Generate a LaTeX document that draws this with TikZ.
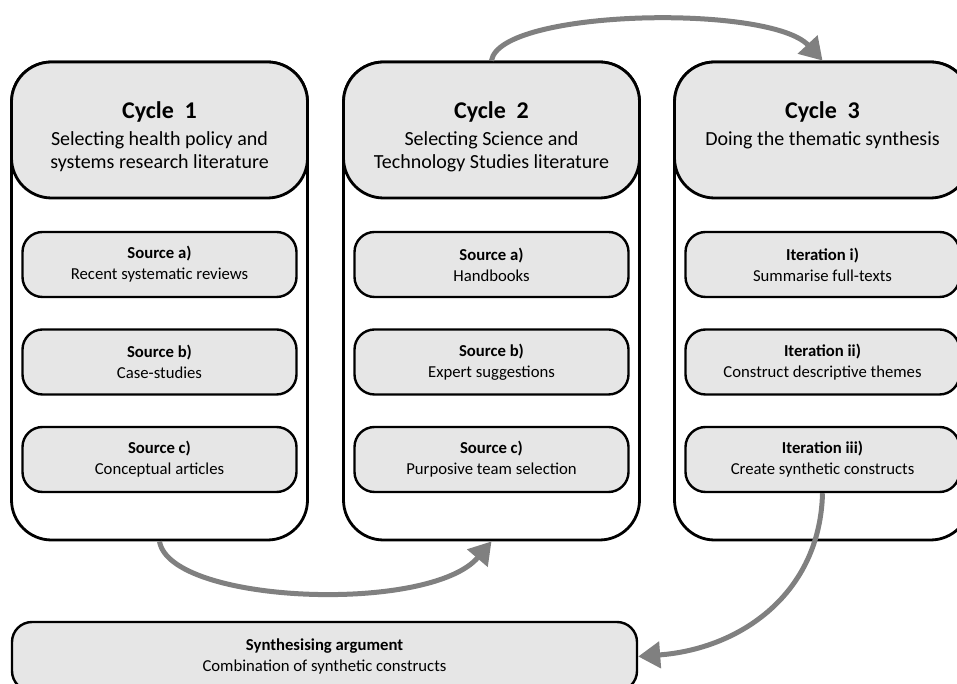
\documentclass[tikz,border=0pt]{standalone}
\usepackage{fontspec}
\setmainfont{Carlito}
\usetikzlibrary{arrows.meta}
\definecolor{boxgray}{RGB}{230,230,230}
\definecolor{flowgray}{RGB}{128,128,128}
\tikzset{
  cyclebox/.style={draw, line width=2.8pt, fill=white, rounded corners=40pt,
    minimum width=296pt, minimum height=478pt},
  cyclehead/.style={draw, line width=2.8pt, fill=boxgray, rounded corners=40pt,
    minimum width=296pt, minimum height=136pt},
  headtext/.style={anchor=north, inner sep=0pt, align=center,
    font=\fontsize{20}{23.5}\selectfont},
  itembox/.style={draw, line width=2.4pt, fill=boxgray, rounded corners=20pt,
    minimum width=274pt, minimum height=65pt, align=center, inner sep=0pt,
    font=\fontsize{16.7}{21}\selectfont},
  flow/.style={draw=flowgray, line width=5pt, -{Triangle[length=22pt,width=26pt]}}
}
\newcommand{\cycletitle}[1]{{\fontsize{24}{27}\selectfont\bfseries Cycle\ \ #1}\\[3.5pt]}
\begin{document}
\begin{tikzpicture}[x=1pt,y=1pt]
\useasboundingbox (0,0) rectangle (957,684);
\node[cyclebox] (c1) at (159.5,383) {};
\node[cyclebox] (c2) at (491.5,383) {};
\node[cyclebox] (c3) at (822.5,383) {};
\node[cyclehead] (h1) at (159.5,554) {};
\node[cyclehead] (h2) at (491.5,554) {};
\node[cyclehead] (h3) at (822.5,554) {};
\node[headtext] (t1) at (h1.center |- 0,583) {\cycletitle{1}Selecting health policy and\\systems research literature};
\node[headtext] (t2) at (h2.center |- 0,583) {\cycletitle{2}Selecting Science and\\Technology Studies literature};
\node[headtext] (t3) at (h3.center |- 0,583) {\cycletitle{3}Doing the thematic synthesis};

\node[itembox] (s1a) at (159.5,419.5) {\textbf{Source a)}\\Recent systematic reviews};
\node[itembox] (s1b) at (159.5,322) {\textbf{Source b)}\\Case-studies};
\node[itembox] (s1c) at (159.5,224.5) {\textbf{Source c)}\\Conceptual articles};
\node[itembox] (s2a) at (491.5,419.5) {\textbf{Source a)}\\Handbooks};
\node[itembox] (s2b) at (491.5,322) {\textbf{Source b)}\\Expert suggestions};
\node[itembox] (s2c) at (491.5,224.5) {\textbf{Source c)}\\Purposive team selection};
\node[itembox] (s3a) at (822.5,419.5) {\textbf{Iteration i)}\\Summarise full-texts};
\node[itembox] (s3b) at (822.5,322) {\textbf{Iteration ii)}\\Construct descriptive themes};
\node[itembox] (s3c) at (822.5,224.5) {\textbf{Iteration iii)}\\Create synthetic constructs};

\node[itembox, minimum width=625pt, minimum height=69pt] (syn) at (324.5,27.5) {\textbf{Synthesising argument}\\Combination of synthetic constructs};

\draw[flow] (c1.south) .. controls (170,80) and (430,70) .. (c2.south);
\draw[flow] (c2.north) .. controls (500,675) and (770,680) .. (c3.north);
\draw[flow] (s3c.south) .. controls (820,90) and (740,35) .. (syn.east);
\end{tikzpicture}
\end{document}
